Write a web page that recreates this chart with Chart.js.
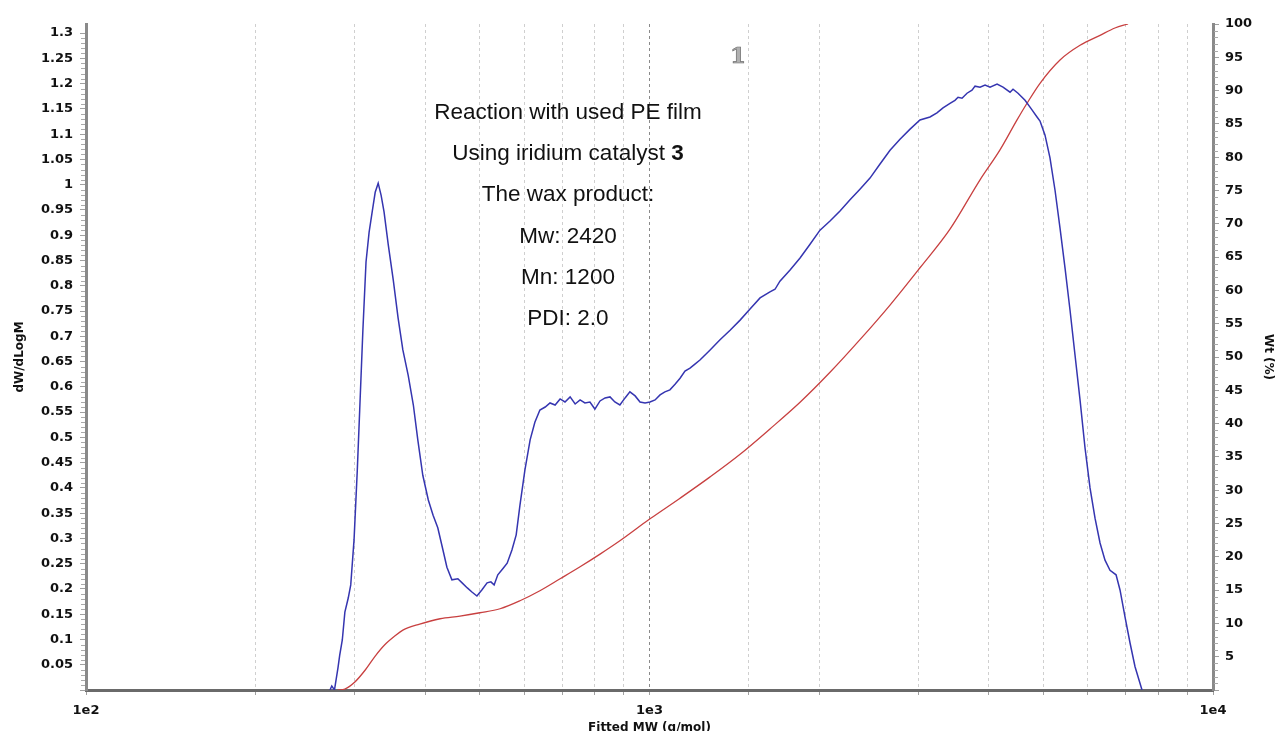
<!DOCTYPE html>
<html>
<head>
<meta charset="utf-8">
<script src="https://cdn.jsdelivr.net/npm/chart.js@4.4.1/dist/chart.umd.min.js"></script>
<style>
  html, body { margin: 0; padding: 0; background: #ffffff; }
  #wrap { position: relative; width: 1280px; height: 731px; overflow: hidden; background: #fff; }
  #c { position: absolute; left: 0; top: 0; }
  .note { position: absolute; left: 368px; width: 400px; text-align: center;
          font-family: "Liberation Sans", Arial, sans-serif; font-size: 22.5px; color: #111;
          line-height: 41px; height: 41px; white-space: nowrap; }
  #num { position: absolute; left: 718px; top: 38px; width: 40px; text-align: center;
         font-family: "DejaVu Serif", serif; font-weight: bold; font-size: 23px;
         color: #b0b0b0; -webkit-text-stroke: 0.7px #6a6a6a; line-height: 34px; }
</style>
</head>
<body>
<div id="wrap">
  <canvas id="c" width="1280" height="731"></canvas>
  <div id="num">1</div>
  <div class="note" style="top:91px">Reaction with used PE film</div>
  <div class="note" style="top:132px">Using iridium catalyst <b>3</b></div>
  <div class="note" style="top:173px">The wax product:</div>
  <div class="note" style="top:215px">Mw: 2420</div>
  <div class="note" style="top:256px">Mn: 1200</div>
  <div class="note" style="top:297px">PDI: 2.0</div>
</div>
<script>
// ---- Data ----
// Differential distribution (left axis): molecular weight (g/mol) and dW/dLogM
const mwBlue = [271,273,276,280,282,285,288,292,295,299,303,306,310,314,318,322,326,330,334,338,
  344,351,358,365,373,381,388,396,405,413,421,430,437,446,457,465,475,484,494,504,
  515,523,530,538,550,559,570,580,589,601,614,626,639,653,666,680,694,708,723,738,
  753,768,784,800,817,834,851,868,886,905,923,943,962,982,1002,1023,1044,1065,1087,1110,
  1133,1156,1180,1204,1229,1281,1334,1390,1448,1508,1571,1636,1670,1704,1776,1850,1927,2007,2091,2178,
  2269,2363,2462,2565,2672,2783,2900,3020,3146,3237,3318,3414,3484,3528,3586,3660,3735,3782,3860,3940,
  4021,4138,4240,4363,4417,4508,4639,4773,4872,4932,5034,5137,5244,5352,5463,5575,5690,5808,5928,6050,
  6175,6303,6432,6565,6729,6839,6981,7125,7272,7482];
const dwdlogm = [0,0.008,0,0.044,0.069,0.099,0.154,0.182,0.208,0.297,0.435,0.554,0.712,0.847,0.906,0.946,0.985,1.003,0.979,0.946,
  0.880,0.811,0.736,0.673,0.623,0.564,0.495,0.425,0.376,0.346,0.321,0.277,0.243,0.218,0.220,0.212,0.202,0.194,0.186,0.198,
  0.212,0.214,0.208,0.228,0.241,0.251,0.277,0.307,0.366,0.435,0.495,0.530,0.554,0.560,0.568,0.564,0.576,0.570,0.580,0.566,
  0.574,0.568,0.570,0.556,0.572,0.578,0.580,0.570,0.564,0.578,0.590,0.582,0.570,0.568,0.570,0.574,0.584,0.590,0.594,0.605,
  0.617,0.631,0.637,0.645,0.653,0.673,0.693,0.712,0.732,0.754,0.776,0.788,0.793,0.809,0.831,0.855,0.882,0.910,0.928,0.948,
  0.970,0.991,1.013,1.041,1.068,1.090,1.110,1.128,1.134,1.142,1.152,1.161,1.167,1.173,1.171,1.181,1.187,1.195,1.193,1.197,
  1.193,1.199,1.193,1.183,1.189,1.181,1.167,1.148,1.134,1.126,1.098,1.053,0.989,0.914,0.835,0.752,0.663,0.574,0.479,0.400,
  0.340,0.291,0.257,0.237,0.228,0.198,0.144,0.093,0.046,0];
// Cumulative distribution (right axis): molecular weight (g/mol) and Wt (%)
const mwRed = [280,288,300,313,326,339,353,365,391,425,461,500,543,589,639,694,753,817,886,1002,
  1133,1281,1448,1636,1850,2091,2363,2672,3020,3414,3860,4188,4490,4677,4932,5352,5808,6303,6699,7067];
const wtPct = [0,0.15,1.2,3.0,5.1,6.8,8.1,9.0,9.9,10.7,11.1,11.6,12.2,13.4,14.9,16.7,18.5,20.4,22.4,25.7,
  28.8,32.0,35.4,39.2,43.2,47.7,52.6,57.8,63.4,69.2,76.6,81.1,85.6,88.1,91.1,94.6,96.8,98.3,99.4,100];
// Axis labels
const xLabels = {100: "1e2", 1000: "1e3", 10000: "1e4"};
const xTitle = "Fitted MW (g/mol)";
const yTitle = "dW/dLogM";
const y2Title = "Wt (%)";

const tickFont = { family: "'DejaVu Sans', Verdana, sans-serif", weight: "bold", size: 13 };
const titleFont = { family: "'DejaVu Sans', Verdana, sans-serif", weight: "bold", size: 12 };

const minorTicks = {
  id: "minorTicks",
  afterDraw(chart) {
    const ctx = chart.ctx, y = chart.scales.y, y2 = chart.scales.y2;
    ctx.save();
    ctx.strokeStyle = "#aaaaaa";
    ctx.lineWidth = 1;
    for (let i = 0; i <= 130; i++) {
      if (i % 5 === 0) continue;
      const p = Math.round(y.getPixelForValue(i / 100)) + 0.5;
      ctx.beginPath(); ctx.moveTo(y.right - 5, p); ctx.lineTo(y.right - 1, p); ctx.stroke();
    }
    for (let i = 0; i <= 100; i++) {
      if (i % 5 === 0) continue;
      const p = Math.round(y2.getPixelForValue(i)) + 0.5;
      ctx.beginPath(); ctx.moveTo(y2.left + 1, p); ctx.lineTo(y2.left + 5, p); ctx.stroke();
    }
    ctx.restore();
  }
};

const blueData = mwBlue.map((m, i) => ({ x: m, y: dwdlogm[i] }));
const redData = mwRed.map((m, i) => ({ x: m, y: wtPct[i] }));

new Chart(document.getElementById("c"), {
  type: "line",
  data: {
    datasets: [
      { data: blueData, yAxisID: "y", borderColor: "#3535b0", borderWidth: 1.5,
        pointRadius: 0, tension: 0, fill: false },
      { data: redData, yAxisID: "y2", borderColor: "#c84040", borderWidth: 1.3,
        pointRadius: 0, tension: 0.2, cubicInterpolationMode: "monotone", fill: false }
    ]
  },
  options: {
    responsive: false,
    animation: false,
    devicePixelRatio: 1,
    layout: { padding: { top: 24, left: 0, right: 0, bottom: 0 } },
    plugins: { legend: { display: false }, tooltip: { enabled: false } },
    scales: {
      x: {
        type: "logarithmic", min: 100, max: 10000, position: "bottom",
        afterFit: s => { s.height = 41; },
        border: { display: true, color: "#6a6a6a", width: 3, dash: [3, 3] },
        grid: {
          drawOnChartArea: true, drawTicks: true, tickLength: 5,
          color: ctx => (ctx.tick && ctx.tick.value === 1000) ? "#8a8a8a" : "#cfcfcf",
          lineWidth: 1, tickBorderDash: [], tickColor: "#a0a0a0"
        },
        ticks: {
          autoSkip: false, maxRotation: 0, padding: 8, color: "#111", font: tickFont,
          callback: v => xLabels[Math.round(v)] || ""
        },
        title: { display: true, text: xTitle, color: "#111", font: titleFont, padding: { top: 0, bottom: -4 } }
      },
      y: {
        type: "linear", position: "left", min: 0, max: 1.318,
        afterFit: s => { s.width = 86; },
        border: { display: true, color: "#8a8a8a", width: 3 },
        grid: { drawOnChartArea: false, drawTicks: true, tickLength: 6, tickColor: "#a0a0a0" },
        ticks: {
          stepSize: 0.05, includeBounds: false, autoSkip: false, padding: 7, color: "#111", font: tickFont,
          callback: v => (Math.abs(v) < 1e-9 ? "" : String(Number(v.toFixed(2))))
        },
        title: { display: true, text: yTitle, color: "#111", font: titleFont, padding: { top: 13, bottom: 0 } }
      },
      y2: {
        type: "linear", position: "right", min: 0, max: 100,
        afterFit: s => { s.width = 67; },
        border: { display: true, color: "#8a8a8a", width: 3 },
        grid: { drawOnChartArea: false, drawTicks: true, tickLength: 6, tickColor: "#a0a0a0" },
        ticks: {
          stepSize: 5, autoSkip: false, padding: 6, color: "#111", font: tickFont,
          callback: v => (v === 0 ? "" : String(v))
        },
        title: { display: true, text: y2Title, color: "#111", font: titleFont, padding: { top: 5, bottom: 0 } }
      }
    }
  },
  plugins: [minorTicks]
});
</script>
</body>
</html>
